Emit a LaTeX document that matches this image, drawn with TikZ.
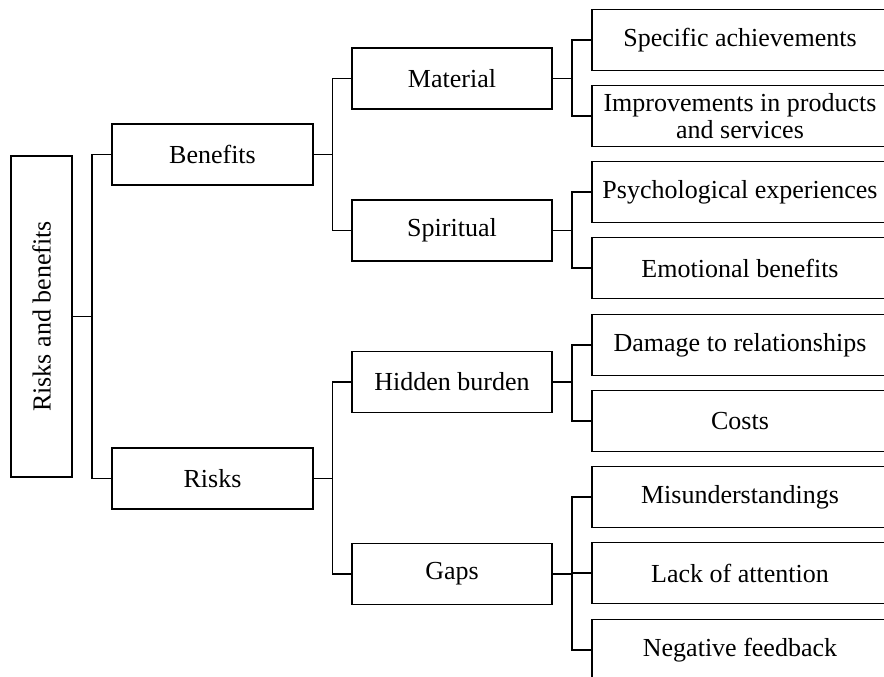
\documentclass[tikz,border=0pt]{standalone}
\usepackage{fontspec}
\setmainfont{Liberation Serif}
\usepackage{tikz}
\usetikzlibrary{positioning}

\begin{document}
\begin{tikzpicture}[x=1pt, y=-1pt, line width=1.5pt,
    every node/.style={font=\fontsize{26}{27}\selectfont}]
    \tikzstyle{kvadr}=[ %
      draw, rectangle,
      minimum height=61,
      inner sep=0, outer sep=0,
      align=center
    ]
    \tikzstyle{prvni}=[kvadr, minimum width=201]
    \tikzstyle{druhy}=[kvadr, minimum width=200]
    \tikzstyle{treti}=[kvadr, minimum width=296]
    \tikzstyle{spoj}=[line width=1.5pt]
  %  \draw[help lines] (0,0) grid (884,677);
    \useasboundingbox (0,0) rectangle (884,677);
    \clip (0,0) rectangle (884,677);
    \path (41.5,316.5) node(root) [kvadr, minimum width=61, minimum height=321]
                {\rotatebox{90}{Risks and benefits}}
          (212.5,154.5) node(ben) [prvni] {Benefits}
          (212.5,478.5) node(risk) [prvni] {Risks}
          (452,78.5)  node(mat) [druhy] {Material}
          (452,230.5) node(spir) [druhy] {Spiritual}
          (452,382)   node(hid) [druhy] {Hidden burden}
          (452,574)   node(gap) [druhy] {Gaps};
    \path (740,40)  node(spec) [treti] {Specific achievements}
          (740,116) node(impr) [treti] {Improvements in products\\and services}
          (740,192) node(psy) [treti] {Psychological experiences}
          (740,268) node(emo) [treti] {Emotional benefits}
          (740,345) node(dmg) [treti] {Damage to relationships}
          (740,421) node(cost) [treti] {Costs}
          (740,497) node(mis) [treti] {Misunderstandings}
          (740,573) node(lack) [treti] {Lack of attention}
          (740,650) node(neg) [treti] {Negative feedback};
  % spojnice
    \draw[spoj] (root.east) -- ++(20,0) coordinate(j0);
    \draw[spoj] (j0) |- (ben.west);
    \draw[spoj] (j0) |- (risk.west);
    \draw[spoj] (ben.east) -- ++(19.5,0) coordinate(j1);
    \draw[spoj] (j1) |- (mat.west);
    \draw[spoj] (j1) |- (spir.west);
    \draw[spoj] (risk.east) -- ++(19.5,0) coordinate(j2);
    \draw[spoj] (j2) |- (hid.west);
    \draw[spoj] (j2) |- (gap.west);
    \draw[spoj] (mat.east) -- ++(20,0) coordinate(j3);
    \draw[spoj] (j3) |- (spec.west);
    \draw[spoj] (j3) |- (impr.west);
    \draw[spoj] (spir.east) -- ++(20,0) coordinate(j4);
    \draw[spoj] (j4) |- (psy.west);
    \draw[spoj] (j4) |- (emo.west);
    \draw[spoj] (hid.east) -- ++(20,0) coordinate(j5);
    \draw[spoj] (j5) |- (dmg.west);
    \draw[spoj] (j5) |- (cost.west);
    \draw[spoj] (gap.east) -- ++(20,0) coordinate(j6);
    \draw[spoj] (j6) |- (mis.west);
    \draw[spoj] (j6) |- (lack.west);
    \draw[spoj] (j6) |- (neg.west);
  \end{tikzpicture}
\end{document}
